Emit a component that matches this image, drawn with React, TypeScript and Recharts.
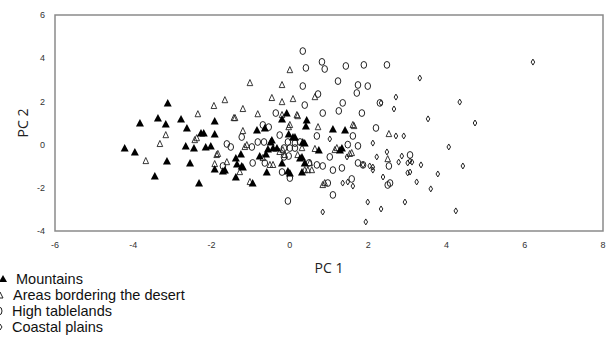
import React from "react";
import { ScatterChart, Scatter, XAxis, YAxis, ReferenceArea } from "recharts";

const xTicks = [-6, -4, -2, 0, 2, 4, 6, 8];
const yTicks = [-4, -2, 0, 2, 4, 6];

const legendLabels = ["Mountains", "Areas bordering the desert", "High tablelands", "Coastal plains"];

const mountains: [number, number][] = [
  [-3.12, 1.93], [-3.83, 1.0], [-3.37, 1.23], [-3.17, 0.95], [-2.78, 1.19], [-2.63, 0.77],
  [-4.22, -0.16], [-3.96, -0.34], [-3.45, -1.45], [-3.14, -0.76], [-2.66, -0.06], [-2.45, -0.16],
  [-2.55, -0.85], [-2.32, -1.78], [-2.27, 0.54], [-2.2, 0.54], [-1.92, 1.09], [-1.92, 0.49],
  [-2.15, -0.11], [-2.02, -0.06], [-1.92, -1.13], [-1.71, -1.22], [-1.38, -1.5], [-1.25, -0.43],
  [-1.35, -0.9], [-1.23, -0.99], [-0.95, -1.78], [-0.84, 0.68], [-0.64, 0.77], [-0.49, 0.12],
  [-0.56, -0.2], [-0.43, -0.16], [-0.77, -0.53], [-0.61, -0.43], [-0.59, -1.27], [-0.2, -0.85],
  [-0.2, 1.18], [-0.08, 1.46], [-0.03, 0.49], [0.08, 0.35], [0.13, 0.35], [0.0, -1.31],
  [0.38, 0.07], [0.31, -0.57], [0.38, -0.85], [0.43, 1.14], [0.41, 0.86], [0.74, -0.25],
  [1.1, 0.72], [1.41, 0.68], [1.33, -0.16], [1.28, -0.25], [-0.05, -1.22], [0.31, -1.27],
  [-1.66, -1.18], [-1.38, -0.62], [-1.2, -1.04], [-0.33, -0.16], [-0.46, 0.21], [0.26, -0.62],
  [0.33, 0.12],
];

const desertBorder: [number, number][] = [
  [-2.35, 1.41], [-3.17, 0.44], [-3.32, 0.03], [-3.68, -0.76], [-2.43, 0.21], [-1.02, 2.85],
  [0.0, 3.45], [-0.2, 2.76], [0.08, 2.11], [-0.46, 2.16], [-0.2, 1.97], [0.64, 2.2],
  [-1.66, 2.06], [-1.94, 1.79], [-1.2, 1.65], [-1.43, 1.23], [-0.82, 1.41], [0.2, 1.32],
  [-1.2, 0.63], [-1.87, -0.48], [-1.92, -0.9], [-1.61, -0.81], [-1.15, -0.11], [-1.28, -1.27],
  [-1.02, -1.73], [-0.51, -0.94], [-0.03, 0.81], [-0.26, -0.34], [-0.13, -0.48], [0.2, -0.48],
  [0.38, -1.18], [0.46, -1.18], [0.72, 0.81], [0.64, -0.2], [0.89, -1.78], [1.2, -0.16],
  [1.64, 0.86], [1.53, -0.43], [2.53, 0.49], [2.5, -0.67], [-0.2, 1.37], [0.18, 1.37],
  [0.0, 0.91], [1.61, 0.91], [1.15, -0.25], [1.58, -0.39], [-0.18, -0.25], [0.31, -0.16],
  [0.51, -0.85], [0.56, -1.18], [0.84, -1.87], [-2.38, 0.3], [-1.84, -0.43], [-1.1, -0.02],
  [-0.69, -0.62], [-0.43, -0.94], [-1.4, 1.23],
];

const highTablelands: [number, number][] = [
  [0.33, 4.33], [0.82, 3.83], [0.89, 3.5], [0.41, 3.55], [1.43, 3.64], [1.89, 3.69],
  [2.48, 3.69], [0.33, 2.71], [1.23, 2.94], [1.74, 2.76], [1.99, 2.71], [1.71, 2.39],
  [0.72, 2.34], [1.35, 1.93], [0.38, 1.83], [1.25, 1.56], [0.84, 1.46], [1.84, 1.46],
  [-0.36, 1.46], [2.2, 0.77], [-0.69, 0.91], [-0.54, 0.81], [-1.23, 0.35], [-0.26, 0.44],
  [-0.82, 0.12], [-0.66, 0.12], [-1.61, 0.03], [-1.51, -0.11], [-0.97, -0.11], [-0.05, 0.12],
  [0.13, 0.07], [0.26, 0.12], [0.69, 0.4], [1.61, 0.4], [1.74, -0.06], [1.48, 0.0],
  [-0.15, -0.16], [0.0, -0.16], [0.13, -0.16], [-0.15, -0.57], [-0.03, -0.53], [1.02, -0.57],
  [0.49, -0.85], [0.69, -0.94], [0.84, -0.99], [1.33, -1.08], [1.1, -1.18], [1.74, -0.85],
  [1.87, -0.94], [2.53, -0.99], [1.58, -1.59], [0.97, -1.78], [1.1, -2.33], [-0.2, -1.27],
  [0.0, -1.55], [-0.64, -0.85], [-0.95, -0.85], [-1.71, -0.99], [-0.05, -2.61], [2.5, -1.87],
  [3.07, -0.48], [2.56, -1.78], [2.3, 1.93],
];

const coastalPlains: [number, number][] = [
  [2.33, 1.93], [2.12, 0.07], [1.02, 0.26], [2.48, -0.34], [2.22, -0.57], [1.46, -0.57],
  [2.04, -0.99], [2.12, -1.18], [2.38, -1.5], [1.35, -1.78], [1.61, -1.92], [1.99, -2.66],
  [2.33, -2.98], [0.84, -3.12], [1.94, -3.58], [6.21, 3.82], [3.32, 3.08], [2.71, 2.2],
  [2.66, 1.65], [4.34, 1.97], [3.53, 1.19], [4.73, 1.0], [2.71, 0.4], [2.91, 0.4],
  [4.06, -0.11], [2.86, -0.53], [2.78, -0.81], [3.01, -0.85], [3.07, -0.76], [3.12, -0.81],
  [3.35, -0.94], [4.42, -0.99], [3.01, -1.31], [3.07, -1.27], [3.24, -1.73], [3.78, -1.36],
  [3.6, -2.05], [2.94, -2.66], [4.24, -3.07], [1.48, -1.73], [1.87, -0.94], [2.12, -1.04],
];

const toPoints = (arr: [number, number][]) => arr.map(([x, y]) => ({ x, y }));

const FilledTri = (p: any) => {
  const { cx, cy } = p;
  return <polygon points={`${cx},${cy - 4} ${cx - 4},${cy + 3.5} ${cx + 4},${cy + 3.5}`} fill="#000" />;
};
const OpenTri = (p: any) => {
  const { cx, cy } = p;
  return (
    <polygon
      points={`${cx},${cy - 3.5} ${cx - 2.8},${cy + 2.6} ${cx + 2.8},${cy + 2.6}`}
      fill="none"
      stroke="#222"
      strokeWidth={0.9}
    />
  );
};
const OpenCircle = (p: any) => {
  const { cx, cy } = p;
  return <ellipse cx={cx} cy={cy} rx={2.8} ry={3.4} fill="none" stroke="#222" strokeWidth={1} />;
};
const Diamond = (p: any) => {
  const { cx, cy } = p;
  return (
    <polygon
      points={`${cx},${cy - 3} ${cx + 1.8},${cy} ${cx},${cy + 3} ${cx - 1.8},${cy}`}
      fill="none"
      stroke="#222"
      strokeWidth={1}
    />
  );
};

const tickStyle = { fontSize: 9, fill: "#333", fontFamily: "Liberation Sans, Arial, sans-serif" };

export default function App() {
  return (
    <div style={{ position: "absolute", left: 0, top: 0, width: 606, height: 342, background: "#fff" }}>
      <ScatterChart width={606} height={342} margin={{ top: 15, right: 3, bottom: 81, left: 0 }}>
        <XAxis
          type="number"
          dataKey="x"
          domain={[-6, 8]}
          ticks={xTicks}
          tickLine={false}
          axisLine={false}
          tickMargin={5}
          height={30}
          tick={tickStyle}
          allowDataOverflow
          label={{
            value: "PC 1",
            position: "bottom",
            offset: 2,
            style: { fontSize: 14, fill: "#222", fontFamily: "Open Sans, sans-serif" },
          }}
        />
        <YAxis
          type="number"
          dataKey="y"
          domain={[-4, 6]}
          ticks={yTicks}
          tickLine={false}
          axisLine={false}
          tickMargin={4}
          width={55}
          tick={tickStyle}
          allowDataOverflow
          label={{
            value: "PC 2",
            angle: -90,
            position: "insideLeft",
            offset: 23,
            style: { fontSize: 14, fill: "#222", fontFamily: "Open Sans, sans-serif", textAnchor: "middle" },
          }}
        />
        <ReferenceArea x1={-6} x2={8} y1={-4} y2={6} fill="none" stroke="#8a8a8a" strokeWidth={1.5} />
        <Scatter name={legendLabels[2]} data={toPoints(highTablelands)} shape={<OpenCircle />} isAnimationActive={false} />
        <Scatter name={legendLabels[3]} data={toPoints(coastalPlains)} shape={<Diamond />} isAnimationActive={false} />
        <Scatter name={legendLabels[1]} data={toPoints(desertBorder)} shape={<OpenTri />} isAnimationActive={false} />
        <Scatter name={legendLabels[0]} data={toPoints(mountains)} shape={<FilledTri />} isAnimationActive={false} />
      </ScatterChart>
      <svg
        width={260}
        height={70}
        style={{ position: "absolute", left: 0, top: 270 }}
        fontFamily="Liberation Sans, Arial, sans-serif"
        fontSize={14.5}
      >
        <polygon points="3,5 -1,12 7,12" fill="#000" />
        <text x={16} y={14} fill="#111">{legendLabels[0]}</text>
        <polygon points="0,22 -3,28 3,28" fill="none" stroke="#222" strokeWidth={1} />
        <text x={13} y={30} fill="#111">{legendLabels[1]}</text>
        <ellipse cx={-1} cy={41} rx={3} ry={4} fill="none" stroke="#222" strokeWidth={1} />
        <text x={12} y={46} fill="#111">{legendLabels[2]}</text>
        <polygon points="0,54 2,57 0,60 -2,57" fill="none" stroke="#222" strokeWidth={1} />
        <text x={12} y={62} fill="#111">{legendLabels[3]}</text>
      </svg>
    </div>
  );
}
